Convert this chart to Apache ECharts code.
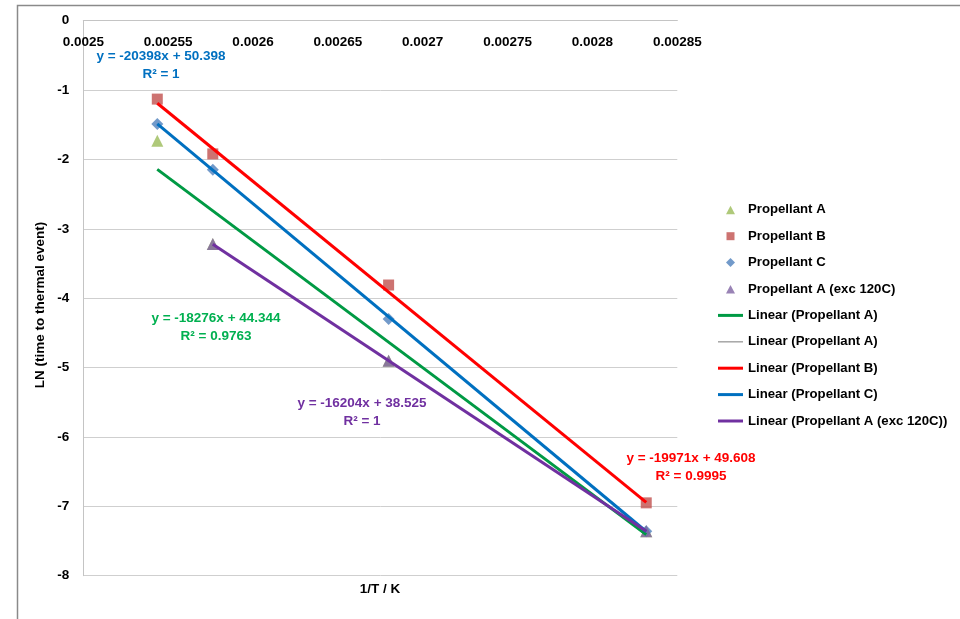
<!DOCTYPE html>
<html>
<head>
<meta charset="utf-8">
<script src="https://cdn.jsdelivr.net/npm/echarts@6/dist/echarts.min.js"></script>
<style>
  html, body { margin: 0; padding: 0; background: #ffffff; }
  #chart { width: 960px; height: 619px; }
</style>
</head>
<body>
<div id="chart"></div>
<script>
// Reciprocal test temperature (1/T) for each run
const invTemp = [0.0025436, 0.0025763, 0.0026799, 0.0028317];

// LN(time to thermal event) per propellant
const propellantA    = [-1.73, -3.22, -4.90, -7.36];
const propellantB    = [-1.13, -1.92, -3.81, -6.95];
const propellantC    = [-1.49, -2.15, -4.30, -7.36];
const propellantAExc = [null, -3.22, -4.90, -7.36];

// Axis ticks
const xTickLabels = ['0.0025', '0.00255', '0.0026', '0.00265', '0.0027', '0.00275', '0.0028', '0.00285'];
const xMin = 0.0025, xMax = 0.00285, xStep = 0.00005;
const yMin = -8, yMax = 0, yStep = 1;

// Linear trend lines: y = slope * x + intercept
const fitNames      = ['Linear (Propellant A)', 'Linear (Propellant A) ', 'Linear (Propellant B)', 'Linear (Propellant C)', 'Linear (Propellant A (exc 120C))'];
const fitSlopes     = [-18276, -18276, -19971, -20398, -16204];
const fitIntercepts = [44.344, 44.344, 49.608, 50.398, 38.525];
const fitR2         = ['0.9763', '0.9763', '0.9995', '1', '1'];
const fitSources    = [propellantA, propellantA, propellantB, propellantC, propellantAExc];

// ---- styling ----
const FONT = '"Liberation Sans", Arial, sans-serif';
const fitColors   = ['#009A44', '#A6A6A6', '#FF0000', '#0070C0', '#7030A0'];
const fitWidths   = [3, 1.5, 3, 3, 3];
const fitIcons    = ['rect', 'path://M0,0H25V1.5H0Z', 'rect', 'rect', 'rect'];
const fitZ        = [4, 3, 4, 4, 4];
const labelColors = ['#00B050', null, '#FF0000', '#0070C0', '#7030A0'];
// centre of the equation line for each trend line (R² line sits below it)
const labelPos    = [[216, 318], null, [691, 458], [161, 56], [362, 403]];

// legend marker icons: a 25x9 box (bounded by the two moveTo points) with the glyph centred
const ICON_TRIANGLE = 'path://M0,0M25,9M8,9L12.5,0.5L17,9Z';
const ICON_SQUARE   = 'path://M0,0M25,9M8.5,0.5H16.5V8.5H8.5Z';
const ICON_DIAMOND  = 'path://M0,0M25,9M12.5,0L17,4.5L12.5,9L8,4.5Z';

function points(ys) {
  const out = [];
  ys.forEach((y, i) => { if (y !== null) out.push([invTemp[i], y]); });
  return out;
}

function fitEnds(ys, slope, intercept) {
  const xs = invTemp.filter((x, i) => ys[i] !== null);
  const x0 = Math.min(...xs), x1 = Math.max(...xs);
  return [[x0, slope * x0 + intercept], [x1, slope * x1 + intercept]];
}

const scatterDefs = [
  { name: 'Propellant A', data: propellantA, symbol: 'triangle', size: 12, color: '#9BBB59', icon: ICON_TRIANGLE },
  { name: 'Propellant B', data: propellantB, symbol: 'rect', size: 11, color: '#C0504D', icon: ICON_SQUARE },
  { name: 'Propellant C', data: propellantC, symbol: 'diamond', size: 12, color: '#4F81BD', icon: ICON_DIAMOND },
  { name: 'Propellant A (exc 120C)', data: propellantAExc, symbol: 'triangle', size: 12, color: '#8064A2', icon: ICON_TRIANGLE }
];

const series = [];
scatterDefs.forEach(d => {
  series.push({
    type: 'scatter', name: d.name, data: points(d.data),
    symbol: d.symbol, symbolSize: d.size,
    itemStyle: { color: d.color }, z: 2, silent: true
  });
});
fitNames.forEach((n, i) => {
  series.push({
    type: 'line', name: n,
    data: fitEnds(fitSources[i], fitSlopes[i], fitIntercepts[i]),
    symbol: 'none', showSymbol: false,
    lineStyle: { color: fitColors[i], width: fitWidths[i] },
    itemStyle: { color: fitColors[i] },
    z: fitZ[i], silent: true
  });
});

const graphics = [
  // outer chart frame
  { type: 'rect', shape: { x: 17.5, y: 5.5, width: 1000, height: 700 },
    style: { fill: 'none', stroke: '#8a8a8a', lineWidth: 1.5 }, silent: true },
  { type: 'text', x: 40, y: 305, rotation: Math.PI / 2,
    style: { text: 'LN (time to thermal event)', x: 0, y: 0, align: 'center', verticalAlign: 'middle',
             fill: '#000', font: 'bold 13.5px ' + FONT } },
  { type: 'text', x: 380, y: 589,
    style: { text: '1/T / K', align: 'center', verticalAlign: 'middle',
             fill: '#000', font: 'bold 13.5px ' + FONT } }
];
fitNames.forEach((n, i) => {
  if (!labelPos[i]) return;
  const [cx, cy] = labelPos[i];
  const eq = 'y = ' + fitSlopes[i] + 'x + ' + fitIntercepts[i];
  graphics.push({ type: 'text', x: cx, y: cy,
    style: { text: eq, align: 'center', verticalAlign: 'middle', fill: labelColors[i], font: 'bold 13.5px ' + FONT } });
  graphics.push({ type: 'text', x: cx, y: cy + 18,
    style: { text: 'R² = ' + fitR2[i], align: 'center', verticalAlign: 'middle', fill: labelColors[i], font: 'bold 13.5px ' + FONT } });
});

const legendText = { color: '#000', fontWeight: 'bold', fontSize: 13.2, fontFamily: FONT, lineHeight: 14 };
const ROW = 26.4, LEGEND_TOP = 202.8, LEGEND_LEFT = 718;

const chart = echarts.init(document.getElementById('chart'), null, { renderer: 'canvas' });
chart.setOption({
  animation: false,
  backgroundColor: '#ffffff',
  grid: { left: 83.3, right: 282.7, top: 20.7, bottom: 43.3, containLabel: false },
  xAxis: {
    type: 'value', position: 'top', min: xMin, max: xMax, interval: xStep,
    axisLine: { show: true, onZero: false, lineStyle: { color: '#c4c4c4', width: 1 } },
    axisTick: { show: false },
    splitLine: { show: false },
    axisLabel: {
      inside: true, margin: 15, color: '#000', fontWeight: 'bold', fontSize: 13.5, fontFamily: FONT,
      formatter: (v, idx) => xTickLabels[idx] !== undefined ? xTickLabels[idx] : ''
    }
  },
  yAxis: {
    type: 'value', min: yMin, max: yMax, interval: yStep,
    axisLine: { show: true, onZero: false, lineStyle: { color: '#c4c4c4', width: 1 } },
    axisTick: { show: false },
    splitLine: { show: true, lineStyle: { color: '#cfcfcf', width: 1 } },
    axisLabel: { margin: 14, color: '#000', fontWeight: 'bold', fontSize: 13.5, fontFamily: FONT }
  },
  legend: [
    {
      orient: 'vertical', left: LEGEND_LEFT, top: LEGEND_TOP, padding: 0,
      itemWidth: 25, itemHeight: 9, itemGap: ROW - 14, symbolKeepAspect: true,
      selectedMode: false, textStyle: legendText,
      data: scatterDefs.map(d => ({ name: d.name, icon: d.icon }))
    },
    {
      orient: 'vertical', left: LEGEND_LEFT, top: LEGEND_TOP + 4 * ROW, padding: 0,
      itemWidth: 25, itemHeight: 3, itemGap: ROW - 14, symbolKeepAspect: true,
      selectedMode: false, textStyle: legendText,
      data: fitNames.map((n, i) => ({ name: n, icon: fitIcons[i] }))
    }
  ],
  graphic: graphics,
  series: series
});
</script>
</body>
</html>
